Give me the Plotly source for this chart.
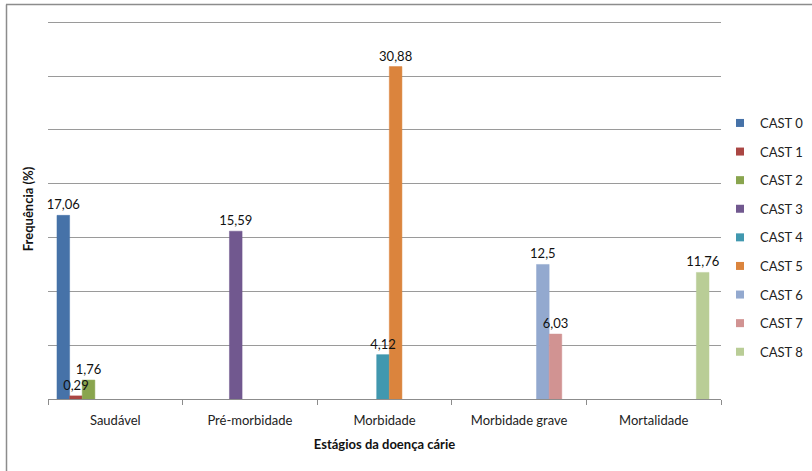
import plotly.graph_objects as go

categories = ["Saudável", "Pré-morbidade", "Morbidade", "Morbidade grave", "Mortalidade"]
series_names = ["CAST 0", "CAST 1", "CAST 2", "CAST 3", "CAST 4", "CAST 5", "CAST 6", "CAST 7", "CAST 8"]
# value of each series per category (None = no bar)
cast0 = [17.06, None, None, None, None]
cast1 = [0.29, None, None, None, None]
cast2 = [1.76, None, None, None, None]
cast3 = [None, 15.59, None, None, None]
cast4 = [None, None, 4.12, None, None]
cast5 = [None, None, 30.88, None, None]
cast6 = [None, None, None, 12.5, None]
cast7 = [None, None, None, 6.03, None]
cast8 = [None, None, None, None, 11.76]
series_values = [cast0, cast1, cast2, cast3, cast4, cast5, cast6, cast7, cast8]
colors = ["#4672A8", "#AA4643", "#89A54E", "#71588F", "#4198AF",
          "#DB843D", "#93A9CF", "#D19392", "#B9CD96"]

FONT = "Lato, 'Open Sans', sans-serif"

def fmt(v):
    if v is None:
        return ""
    return ("%g" % v).replace(".", ",")

# grouped layout inside each category slot (category width = 1)
bar_w = 0.0938
group_start = -0.4333

fig = go.Figure()
for i, (name, vals, col) in enumerate(zip(series_names, series_values, colors)):
    fig.add_trace(go.Bar(
        x=categories, y=vals, name=name,
        width=bar_w, offset=group_start + i * bar_w,
        marker=dict(color=col, line=dict(color=col, width=0.5)),
        showlegend=False, legendgroup=name,
    ))
# labels drawn on top of all bars
for i, (name, vals) in enumerate(zip(series_names, series_values)):
    fig.add_trace(go.Bar(
        x=categories, y=vals, name=name,
        width=bar_w, offset=group_start + i * bar_w,
        marker=dict(color="rgba(0,0,0,0)", line=dict(width=0)),
        text=[fmt(v) for v in vals], textposition="outside",
        constraintext="none",
        textfont=dict(family=FONT, size=13, color="#111111"),
        cliponaxis=False, showlegend=False, hoverinfo="skip",
    ))
# legend entries
for name, col in zip(series_names, colors):
    fig.add_trace(go.Scatter(
        x=[None], y=[None], mode="markers", name=name, legendgroup=name,
        marker=dict(symbol="square", size=8, color=col),
    ))

W, H = 812, 471
ml, mr, mt, mb = 48, 91, 19, 72
pw, ph = W - ml - mr, H - mt - mb

fig.update_layout(
    width=W, height=H,
    margin=dict(l=ml, r=mr, t=mt, b=mb, pad=0, autoexpand=False),
    paper_bgcolor="white", plot_bgcolor="white",
    barmode="overlay",
    separators=",.",
    font=dict(family=FONT, size=13, color="#222222"),
    showlegend=True,
    legend=dict(x=(720 - ml) / pw, xanchor="left", y=1 - (108 - mt) / ph, yanchor="top",
                tracegroupgap=8.7, font=dict(family=FONT, size=13, color="#222222"),
                bgcolor="rgba(0,0,0,0)", itemclick=False),
    xaxis=dict(
        title=dict(text="<b>Estágios da doença cárie</b>", font=dict(family=FONT, size=13, color="#111111"), standoff=13),
        showline=True, linecolor="#8C8C8C", linewidth=1,
        ticks="outside", tickson="boundaries", ticklen=5, tickcolor="#8C8C8C",
        ticklabelstandoff=9,
        tickfont=dict(family=FONT, size=13, color="#222222"),
        showgrid=False,
    ),
    yaxis=dict(
        title=dict(text="<b>Frequência (%)</b>", font=dict(family=FONT, size=13, color="#111111"), standoff=10),
        range=[0, 35.3], tick0=0, dtick=5, showticklabels=False, ticks="",
        showgrid=True, gridcolor="#9A9A9A", gridwidth=1,
        zeroline=False, showline=False,
    ),
    shapes=[
        dict(type="line", xref="paper", yref="paper",
             x0=(6 - ml) / pw, x1=1.5, y0=1 + (mt - 4.5) / ph, y1=1 + (mt - 4.5) / ph,
             line=dict(color="#8C8C8C", width=1.5)),
        dict(type="line", xref="paper", yref="paper",
             x0=(6.5 - ml) / pw, x1=(6.5 - ml) / pw, y0=-0.5, y1=1 + (mt - 4.5) / ph,
             line=dict(color="#8C8C8C", width=1.5)),
    ],
)

fig.write_html("out.html")
